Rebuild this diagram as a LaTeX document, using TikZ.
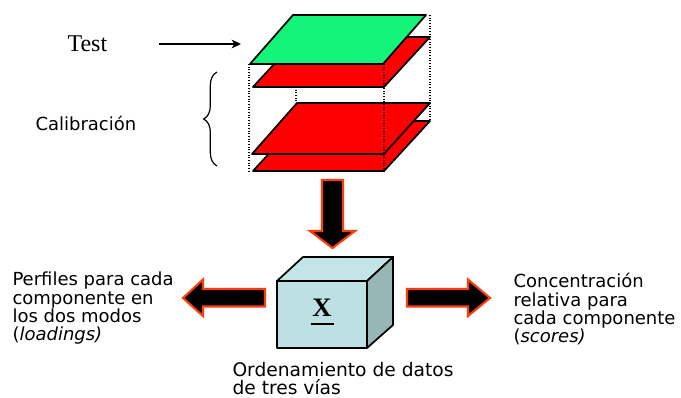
\documentclass[tikz,border=0pt]{standalone}
\usepackage{fontspec}
\setmainfont{Liberation Serif}
\newfontfamily\dejavu{DejaVu Sans}
\usetikzlibrary{arrows.meta,decorations.pathreplacing}

\definecolor{testgreen}{RGB}{20,244,122}
\definecolor{calred}{RGB}{255,0,0}
\definecolor{arroworange}{RGB}{255,60,10}
\definecolor{cubefront}{RGB}{188,224,227}
\definecolor{cubetop}{RGB}{196,229,231}
\definecolor{cubeside}{RGB}{151,182,182}

\tikzset{
	plane/.style={draw=black, line width=1.3pt, line join=round},
	guide/.style={draw=black, line width=0.8pt, dash pattern=on 0.8pt off 1.2pt},
	block arrow/.style={fill=black, draw=arroworange, line width=1.6pt, line join=miter},
	cube face/.style={draw=black, line width=1.3pt, line join=round},
	sanstext/.style={font=\dejavu\fontsize{13.5}{13.75}\selectfont, align=left, inner sep=0pt, anchor=base west}}
\tikzset{every picture/.style={line width=0.75pt}}

\begin{document}
\begin{tikzpicture}[x=0.75pt,y=0.75pt,yscale=-1,xscale=1]
	\useasboundingbox (0,0) rectangle (681,398);

	%Shape: Planes (bottom to top)
	\draw [plane, fill=calred] (253,171) -- (384,171) -- (430,121) -- (299,121) -- cycle ;
	\draw [plane, fill=calred] (252,154) -- (384,154) -- (430,103) -- (297,103) -- cycle ;
	\draw [plane, fill=calred] (253,87) -- (384,87) -- (430,37) -- (299,37) -- cycle ;
	\draw [plane, fill=testgreen] (250,64) -- (383,64) -- (426,15) -- (293,15) -- cycle ;
	%Dotted edges
	\draw [guide] (249,64) -- (249,171) ;
	\draw [guide] (384,64) -- (384,171) ;
	\draw [guide] (430,15) -- (430,121) ;
	\draw [guide] (296,87) -- (296,103) ;

	% Text Node
	\node (test) [font=\fontsize{18}{20}\selectfont, inner sep=0pt, anchor=base west] at (67,52) {Test};
	\coordinate (testtail) at (159,44);
	\coordinate (testhead) at (241,44);
	\draw [line width=1.1pt, -{Stealth[length=7pt,width=6.5pt,inset=2pt]}] (testtail) -- (testhead) ;

	% Text Node
	\node (calib) [sanstext] at (35,131) {Calibración};
	%Brace
	\draw [line width=0.9pt, decorate, decoration={brace, amplitude=10pt}] (217,166) -- (217,72) ;

	%Block arrows
	\draw [block arrow] (322,180) -- (343,180) -- (343,231) -- (355,231) -- (332.5,248) -- (310,231) -- (322,231) -- cycle ;
	\draw [block arrow] (265,289) -- (203,289) -- (203,279.5) -- (183,298) -- (203,316) -- (203,306.5) -- (265,306.5) -- cycle ;
	\draw [block arrow] (407,289) -- (468,289) -- (468,279.5) -- (490,298) -- (468,316) -- (468,306.5) -- (407,306.5) -- cycle ;

	%Shape: Cube
	\draw [cube face, fill=cubefront] (277,281) rectangle (367,348) ;
	\draw [cube face, fill=cubetop] (277,281) -- (303,257) -- (393,257) -- (367,281) -- cycle ;
	\draw [cube face, fill=cubeside] (367,281) -- (393,257) -- (393,325) -- (367,348) -- cycle ;
	\node (xmark) [font=\bfseries\fontsize{20}{22}\selectfont, inner sep=0pt, anchor=base] at (322,317) {X};
	\draw [line width=1.4pt] (xmark.base) ++(-11.5,7) -- ++(23,0) ;

	% Text Node (base = last line)
	\node (loadings) [sanstext] at (12,341) {Perfiles para cada\\componente en\\los dos modos\\(\textit{loadings)}};
	% Text Node
	\node (scores) [sanstext] at (513,343) {Concentración\\relativa para\\cada componente\\(\textit{scores)}};
	% Text Node
	\node (threeway) [sanstext, font=\dejavu\fontsize{14}{13.25}\selectfont] at (232,394) {Ordenamiento de datos\\de tres vías};

\end{tikzpicture}
\end{document}
